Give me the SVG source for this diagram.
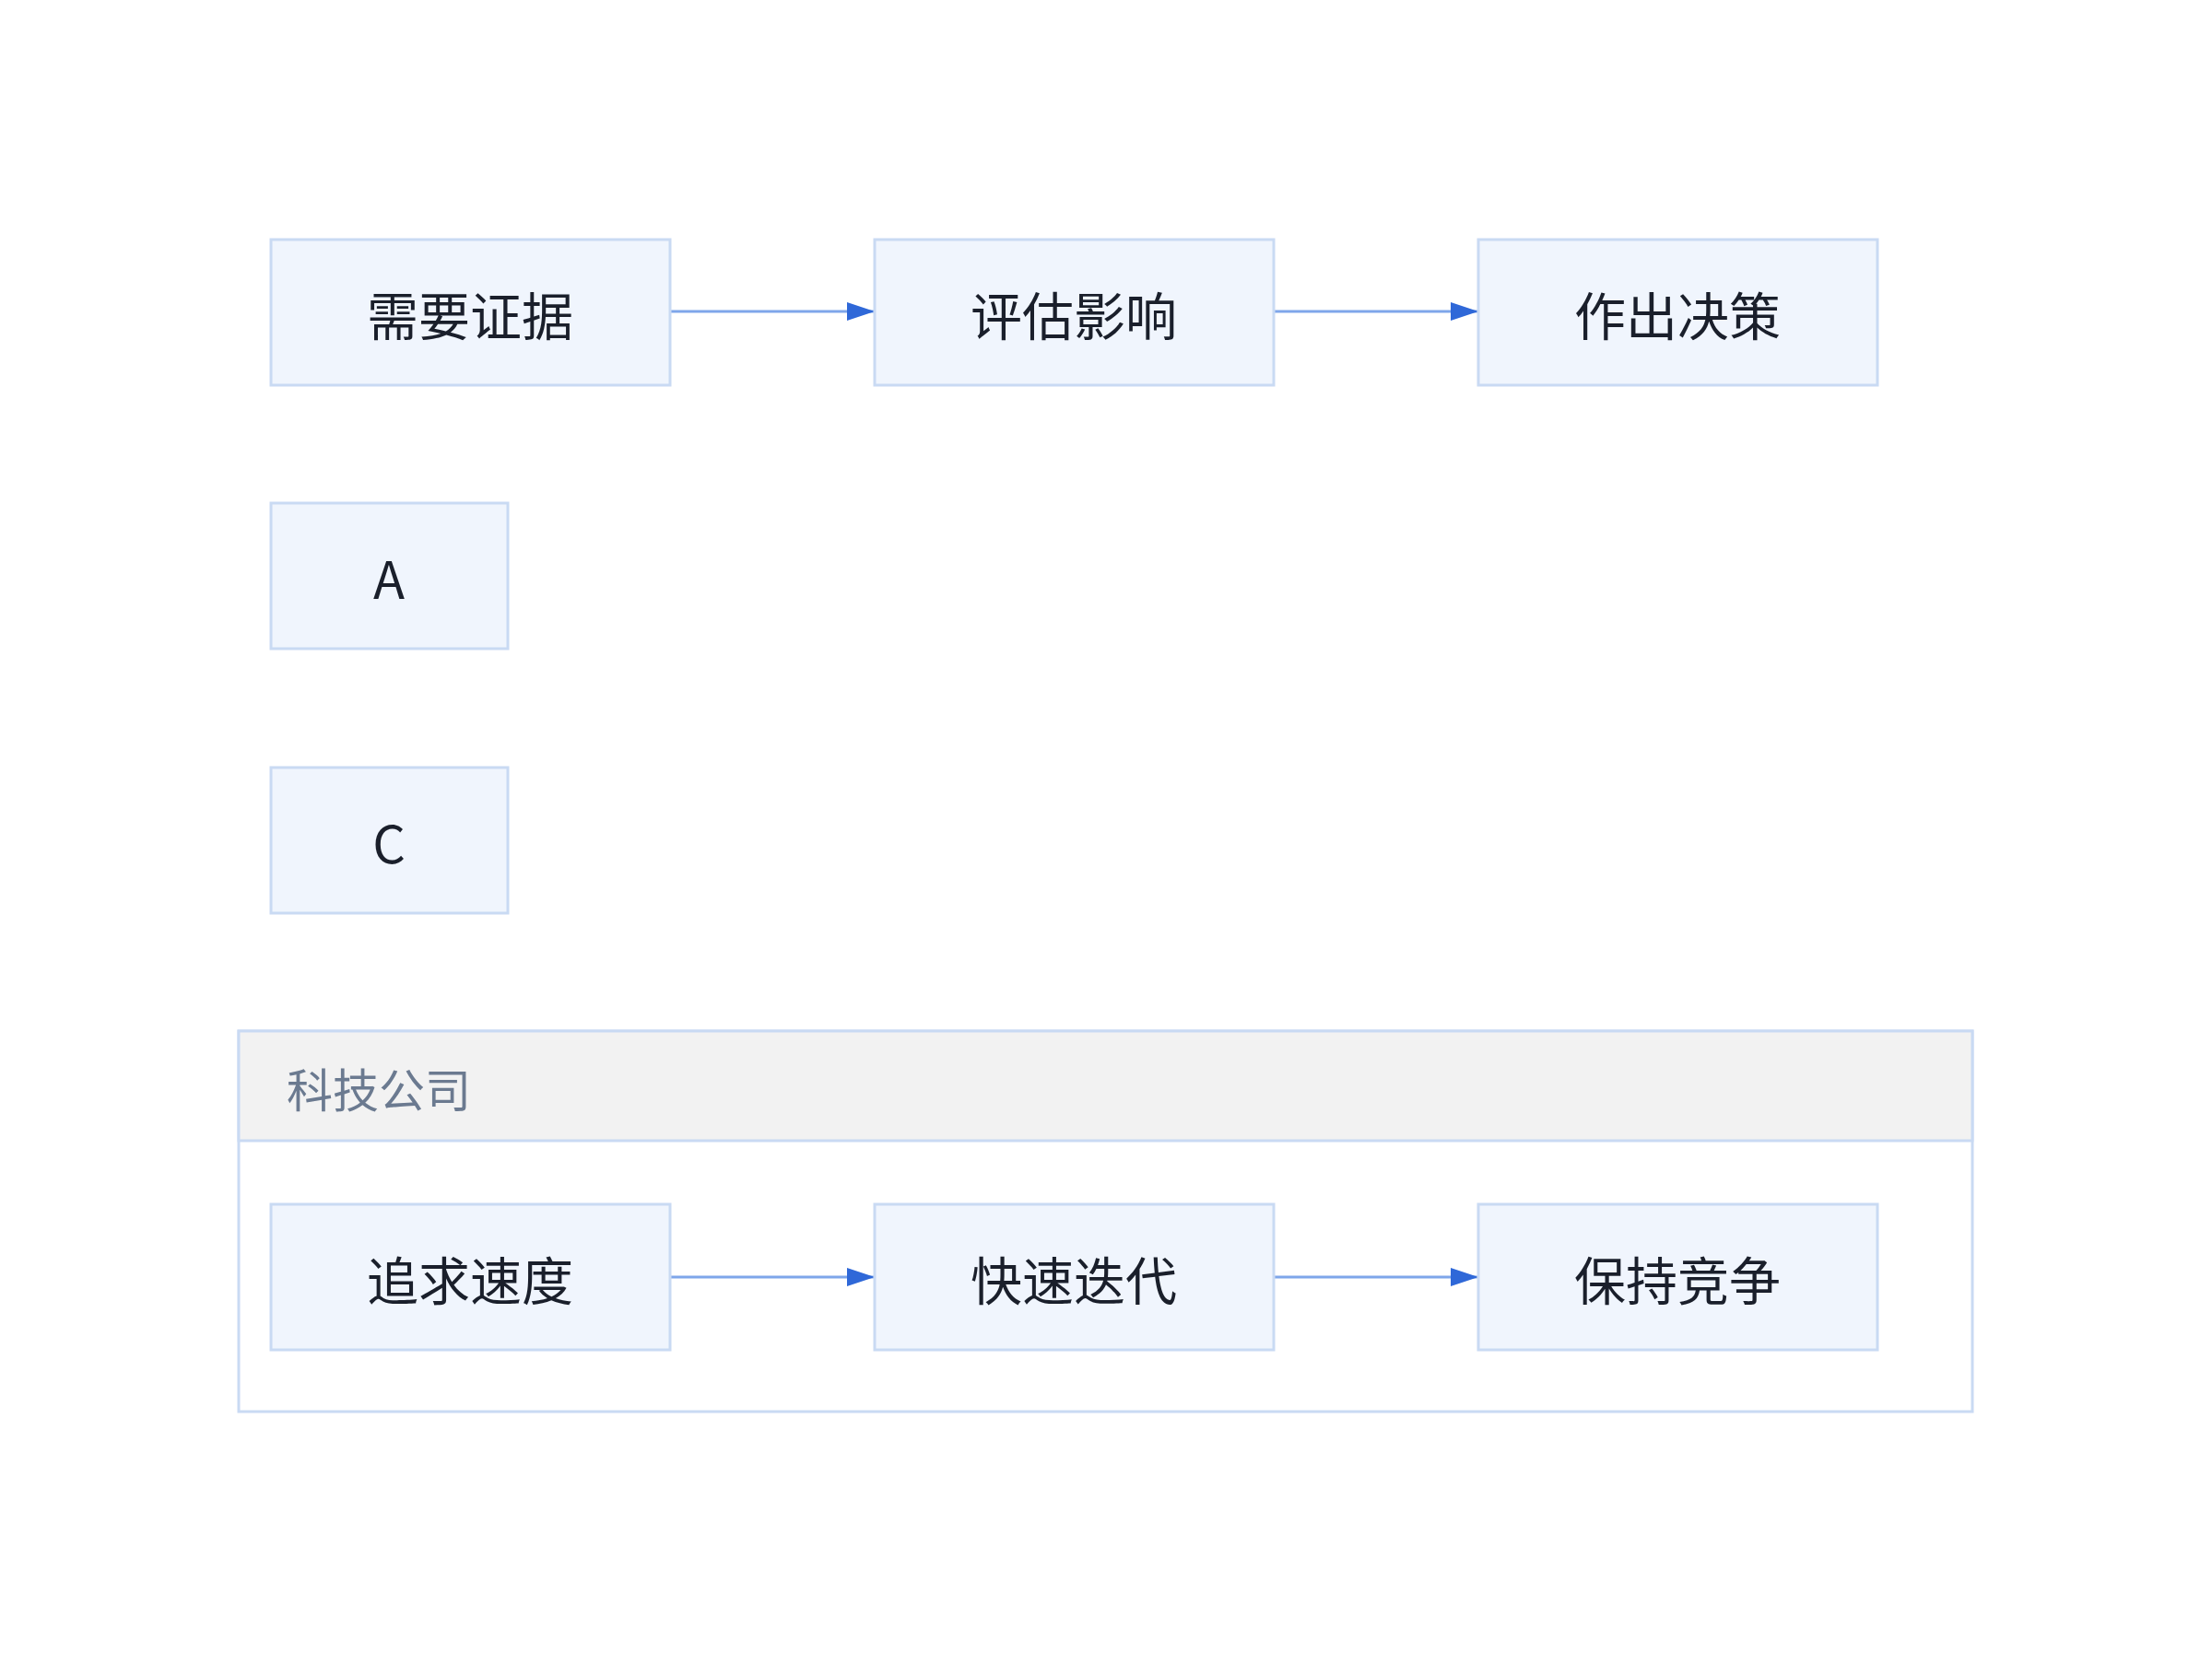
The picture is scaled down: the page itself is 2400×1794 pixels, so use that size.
<svg xmlns="http://www.w3.org/2000/svg" width="2400" height="1794" viewBox="0 0 2400 1794">
<style>
.n{fill:#f0f5fd;stroke:#c9daf3;stroke-width:3}
.t{font-family:"Noto Sans CJK SC","Liberation Sans",sans-serif;font-size:56px;fill:#1a1f2b;text-anchor:middle;dominant-baseline:central}
.e{stroke:#7ea6ea;stroke-width:3;fill:none}
</style>
<defs><marker id="a" viewBox="0 0 10 10" refX="10" refY="5" markerWidth="10" markerHeight="10" markerUnits="userSpaceOnUse" orient="auto"><path d="M0,0L10,5L0,10z" fill="#2f68d8" transform="scale(1)"/></marker>
<marker id="b" viewBox="0 0 30 20" refX="30" refY="10" markerWidth="30" markerHeight="20" markerUnits="userSpaceOnUse" orient="auto"><path d="M0,0L30,10L0,20z" fill="#2f68d8"/></marker></defs>
<rect width="2400" height="1794" fill="#fff"/>
<g id="cluster"><rect x="259" y="1119" width="1881" height="413" fill="#fff" stroke="#c9daf3" stroke-width="3"/><rect x="259" y="1119" width="1881" height="119" fill="#f2f2f2" stroke="#c9daf3" stroke-width="3"/><text x="311" y="1180" font-family="Noto Sans CJK SC,sans-serif" font-size="50" fill="#6b7a90" dominant-baseline="central">科技公司</text></g>
<g id="edges">
<line class="e" x1="727" y1="338" x2="949" y2="338" marker-end="url(#b)"/>
<line class="e" x1="1382" y1="338" x2="1604" y2="338" marker-end="url(#b)"/>
<line class="e" x1="727" y1="1386" x2="949" y2="1386" marker-end="url(#b)"/>
<line class="e" x1="1382" y1="1386" x2="1604" y2="1386" marker-end="url(#b)"/>
</g>
<g id="n1"><rect class="n" x="294" y="260" width="433" height="158"/><text class="t" x="510" y="339">需要证据</text></g>
<g id="n2"><rect class="n" x="949" y="260" width="433" height="158"/><text class="t" x="1165" y="339">评估影响</text></g>
<g id="n3"><rect class="n" x="1604" y="260" width="433" height="158"/><text class="t" x="1820" y="339">作出决策</text></g>
<g id="A"><rect class="n" x="294" y="546" width="257" height="158"/><text class="t" x="422" y="625">A</text></g>
<g id="C"><rect class="n" x="294" y="833" width="257" height="158"/><text class="t" x="422" y="912">C</text></g>
<g id="n4"><rect class="n" x="294" y="1307" width="433" height="158"/><text class="t" x="510" y="1386">追求速度</text></g>
<g id="n5"><rect class="n" x="949" y="1307" width="433" height="158"/><text class="t" x="1165" y="1386">快速迭代</text></g>
<g id="n6"><rect class="n" x="1604" y="1307" width="433" height="158"/><text class="t" x="1820" y="1386">保持竞争</text></g>
</svg>
